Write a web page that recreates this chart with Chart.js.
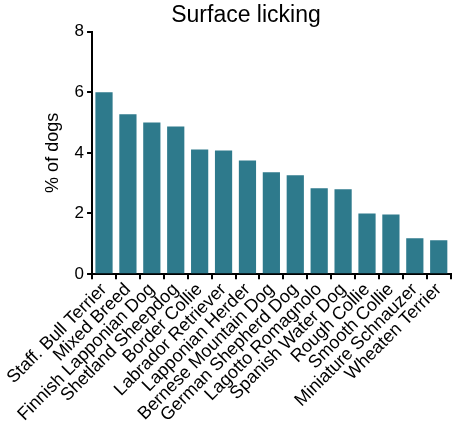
<!DOCTYPE html>
<html>
<head>
<title>Surface licking</title>
<script src="https://cdn.jsdelivr.net/npm/chart.js"></script>
<style>
  html, body { margin: 0; padding: 0; background: #fff; }
  #wrap { width: 454px; height: 436px; }
</style>
</head>
<body>
<div id="wrap"><canvas id="chart" width="454" height="436"></canvas></div>
<script>
const breeds = ['Staff. Bull Terrier', 'Mixed Breed', 'Finnish Lapponian Dog', 'Shetland Sheepdog',
  'Border Collie', 'Labrador Retriever', 'Lapponian Herder', 'Bernese Mountain Dog',
  'German Shepherd Dog', 'Lagotto Romagnolo', 'Spanish Water Dog', 'Rough Collie',
  'Smooth Collie', 'Miniature Schnauzer', 'Wheaten Terrier'];
const percentDogs = [6.0, 5.27, 5.0, 4.87, 4.11, 4.08, 3.75, 3.36, 3.26, 2.83, 2.8, 2.0, 1.97, 1.18, 1.12];
const yTicks = [0, 2, 4, 6, 8];

const font = 'Liberation Sans, Arial, Helvetica, sans-serif';

new Chart(document.getElementById('chart').getContext('2d'), {
  type: 'bar',
  data: {
    labels: breeds,
    datasets: [{
      data: percentDogs,
      backgroundColor: '#2E7A8C',
      barPercentage: 0.72,
      categoryPercentage: 1.0
    }]
  },
  options: {
    responsive: false,
    animation: false,
    layout: { padding: { top: 2, right: 0, left: 38, bottom: 10 } },
    plugins: {
      legend: { display: false },
      tooltip: { enabled: false },
      title: {
        display: true,
        text: 'Surface licking',
        color: '#000',
        font: { family: font, size: 23, weight: 'normal' },
        padding: { top: 0, bottom: 2 }
      }
    },
    scales: {
      x: {
        grid: { drawOnChartArea: false, drawTicks: true, tickLength: 5, color: '#000', lineWidth: 2 },
        border: { display: true, color: '#000', width: 2 },
        ticks: {
          color: '#000',
          autoSkip: false,
          minRotation: 45,
          maxRotation: 45,
          padding: 0,
          font: { family: font, size: 18 }
        }
      },
      y: {
        min: 0,
        max: 8,
        afterBuildTicks: axis => { axis.ticks = yTicks.map(v => ({ value: v })); },
        grid: { drawOnChartArea: false, drawTicks: true, tickLength: 5, color: '#000', lineWidth: 2 },
        border: { display: true, color: '#000', width: 2 },
        title: {
          display: true,
          text: '% of dogs',
          color: '#000',
          font: { family: font, size: 18 },
          padding: { bottom: 8 }
        },
        ticks: {
          color: '#000',
          padding: 3,
          font: { family: font, size: 17 }
        }
      }
    }
  }
});
</script>
</body>
</html>
